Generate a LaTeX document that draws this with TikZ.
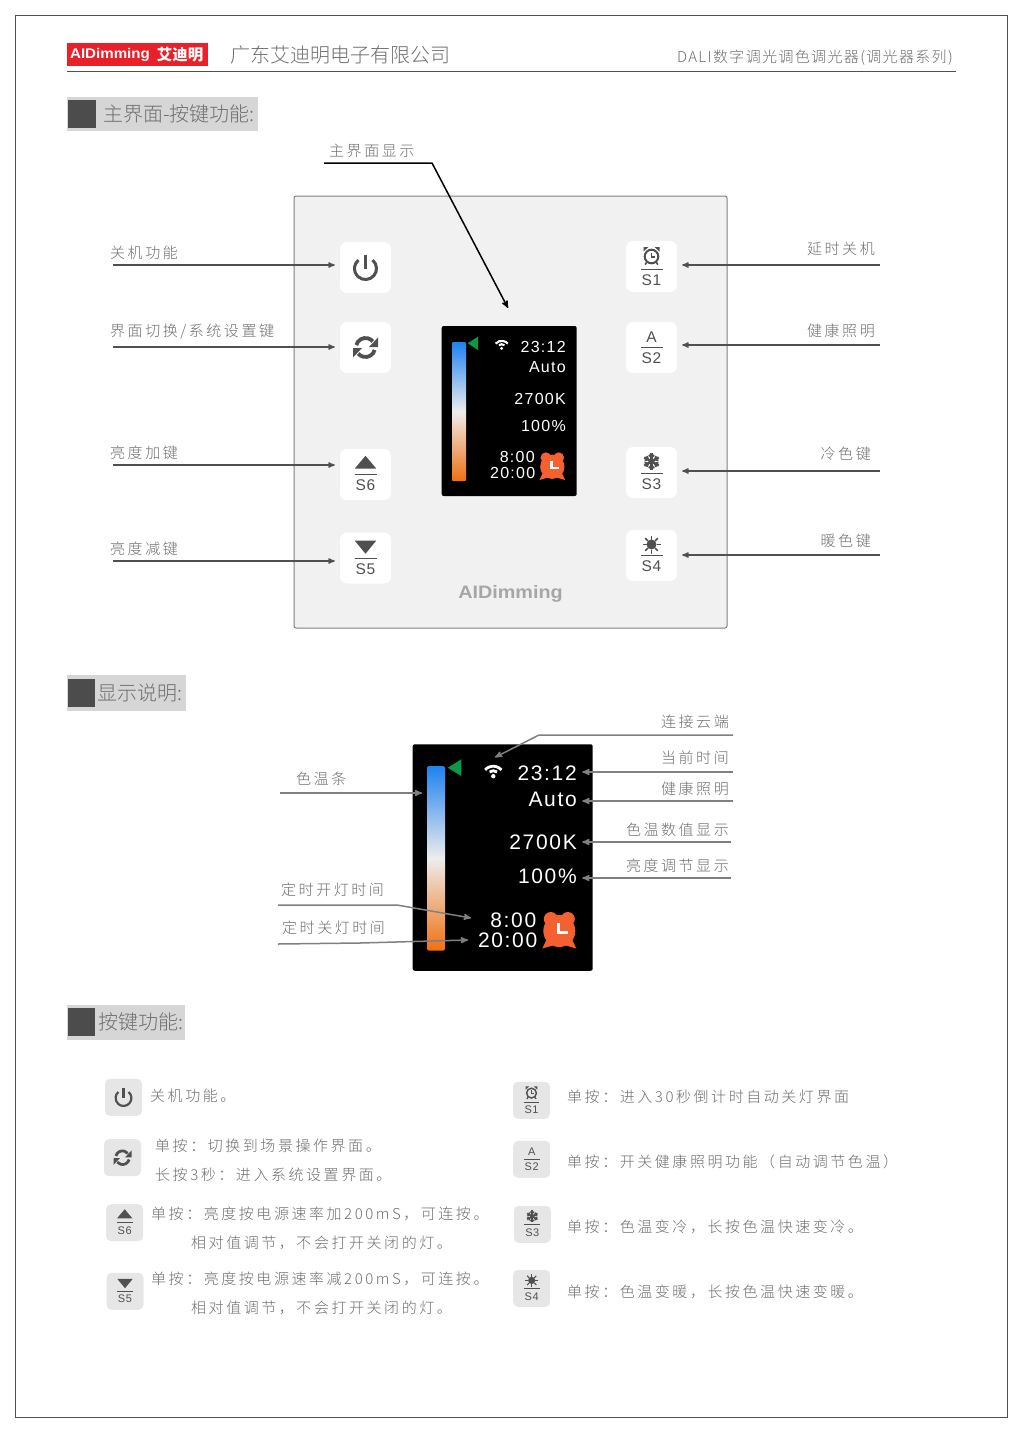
\documentclass[tikz,border=0pt]{standalone}
\usepackage{graphicx}
\usepackage{fontspec}
\usepackage{tikz}
\usetikzlibrary{arrows,positioning}
\newfontfamily\cjkspaced[LetterSpace=17,UprightFont=* Light]{Noto Sans CJK SC}
\newfontfamily\cjktight[LetterSpace=9,UprightFont=* Light]{Noto Sans CJK SC}
\newfontfamily\cjkplain[UprightFont=* Light]{Noto Sans CJK SC}
\newfontfamily\cjklogo{Noto Sans CJK SC}
\newfontfamily\keyfont[LetterSpace=5]{Liberation Sans}
\newfontfamily\logofont{Liberation Sans}
\newfontfamily\dispfont[LetterSpace=8]{Liberation Sans}
\definecolor{txtgray}{HTML}{6E6E6E}
\definecolor{inkgray}{HTML}{505050}
\definecolor{panelgray}{HTML}{F1F1F1}
\definecolor{keygray}{HTML}{E6E6E6}
\definecolor{alarmred}{HTML}{F4602F}
\definecolor{logored}{HTML}{E8202A}
\definecolor{barblue}{HTML}{1E82F0}
\definecolor{barmid}{HTML}{EDEDED}
\definecolor{barwarm}{HTML}{F07010}
\definecolor{flaggreen}{HTML}{0A9A45}
\tikzset{
  caption/.style={font=\cjkspaced\fontsize{15}{15}\selectfont,text=txtgray,inner sep=0pt},
  heading/.style={font=\cjkplain\fontsize{20}{20}\selectfont,text=txtgray,inner sep=0pt,anchor=west},
  callout/.style={draw=inkgray,line width=1.3pt,>=stealth'},
  callgray/.style={draw=gray,line width=1.5pt,>=stealth'},
  bigkey/.style={fill=white,rounded corners=7pt,minimum size=51pt,inner sep=0pt},
  smallkey/.style={fill=keygray,rounded corners=5pt,minimum size=37pt,inner sep=0pt},
  bigtext/.style={font=\keyfont\fontsize{15.5}{15.5}\selectfont,text=inkgray,inner sep=0pt},
  smalltext/.style={font=\keyfont\fontsize{11}{11}\selectfont,text=inkgray,inner sep=0pt},
  screen/.style={fill=black,rounded corners=2pt,inner sep=0pt},
  colourbar/.style={top color=barblue,bottom color=barwarm,middle color=barmid},
  disptext/.style={text=white,anchor=east,inner sep=0pt},
  powericon/.pic={
    \begin{scope}[scale=#1]
      \draw[inkgray,line width=#1*3pt] (0,1) ++(-50:11) arc (-50:230:11);
      \draw[inkgray,line width=#1*3pt] (0,-13) -- (0,1);
    \end{scope}},
  syncicon/.pic={
    \begin{scope}[scale=#1]
      \draw[inkgray,line width=#1*3.8pt] (195:9.5) arc (195:320:9.5);
      \draw[inkgray,line width=#1*3.8pt] (15:9.5) arc (15:140:9.5);
      \fill[inkgray] (12.5,-10) -- (12.5,-0.5) -- (3.5,-0.5) -- cycle;
      \fill[inkgray] (-12.5,10) -- (-12.5,0.5) -- (-3.5,0.5) -- cycle;
    \end{scope}},
  upicon/.pic={
    \begin{scope}[scale=#1]
      \fill[inkgray] (0,-18.7) -- (10.7,-6) -- (-10.7,-6) -- cycle;
    \end{scope}},
  downicon/.pic={
    \begin{scope}[scale=#1]
      \fill[inkgray] (0,-4.3) -- (10.7,-17.3) -- (-10.7,-17.3) -- cycle;
    \end{scope}},
  clockicon/.pic={
    \begin{scope}[scale=#1]
      \draw[inkgray,line width=#1*2pt] (0,-10) circle (6.8);
      \draw[inkgray,line width=#1*1.5pt] (0,-14) -- (0,-9.6) -- (3.5,-9.6);
      \fill[inkgray] (-8,-15) -- (-3.2,-19.3) -- (-8,-19.3) -- cycle;
      \fill[inkgray] (8,-15) -- (3.2,-19.3) -- (8,-19.3) -- cycle;
      \draw[inkgray,line width=#1*1.6pt] (-4.5,-5) -- (-6.3,-1.8) (4.5,-5) -- (6.3,-1.8);
    \end{scope}},
  snowicon/.pic={
    \begin{scope}[scale=#1,shift={(0,-11)}]
      \foreach \ang in {30,90,...,330}{
        \draw[inkgray,line width=#1*2.4pt] (0,0) -- (\ang:8.3);
        \draw[inkgray,line width=#1*1.8pt] (\ang:4) -- ++(\ang+45:3.6) (\ang:4) -- ++(\ang-45:3.6);
      }
      \fill[inkgray] (0,0) circle (3);
    \end{scope}},
  sunicon/.pic={
    \begin{scope}[scale=#1,shift={(0,-11)}]
      \fill[inkgray] (0,0) circle (5);
      \foreach \ang in {0,45,...,315}
        \draw[inkgray,line width=#1*1.5pt] (\ang:5) -- (\ang:9);
    \end{scope}},
  wifiicon/.pic={
    \begin{scope}[scale=#1]
      \fill[white] (0,4.5) circle (2.2);
      \draw[white,line width=#1*2.8pt] (0,5) ++(232:6) arc (232:308:6);
      \draw[white,line width=#1*2.8pt] (0,5.5) ++(222:11) arc (222:318:11);
    \end{scope}},
  alarmicon/.pic={
    \begin{scope}[scale=#1]
      \fill[alarmred] (-8.5,-11) circle (7) (8.5,-11) circle (7) (0,1) circle (16);
      \fill[alarmred] (-13,10) -- (-17,18.5) -- (-5,15) -- cycle (13,10) -- (17,18.5) -- (5,15) -- cycle;
      \draw[white,line width=#1*3pt] (-1,-7) -- (-1,2.3) -- (9,2.3);
    \end{scope}}
}
% key with a rule and a name under the symbol
\newcommand{\keyname}[5]{
  \draw[inkgray,line width=#2*0.9pt] ([shift={(-#2*11,#3)}]#1.center) -- ([shift={(#2*11,#3)}]#1.center);
  \node[#4] (#1name) at ([shift={(0,#3+#2*10.8)}]#1.center) {#5};
}
\begin{document}
\begin{tikzpicture}[x=1pt,y=-1pt]
  \useasboundingbox (0,0) rectangle (1022,1433);
  \draw[inkgray,line width=1pt] (15,15) rectangle (1007,1417);

  % page head
  \node[fill=logored,minimum width=141pt,minimum height=23pt,inner sep=0pt] (logo) at (137.5,54.5) {};
  \node[text=white,font=\logofont\bfseries\fontsize{14}{14}\selectfont,inner sep=0pt] (logoen) at (110,54.5) {\scalebox{1.08}[1]{AIDimming}};
  \node[text=white,font=\cjklogo\bfseries\fontsize{15.5}{15.5}\selectfont,inner sep=0pt] (logocn) at (180,54.5) {艾迪明};
  \node[heading] (company) at (230,55) {广东艾迪明电子有限公司};
  \node[caption,anchor=east,font=\cjktight\fontsize{15}{15}\selectfont] (product) at (953,58) {DALI数字调光调色调光器(调光器系列)};
  \coordinate (headl) at (67,71);
  \coordinate (headr) at (956,71);
  \draw[inkgray,line width=1pt] (headl) -- (headr);

  % section heads
  \fill[black!16] (67,97) rectangle (258,131);
  \fill[black!70] (68,100) rectangle (96,128);
  \node[heading] (secmain) at (103,114) {主界面-按键功能:};
  \fill[black!16] (67,675) rectangle (186,711);
  \fill[black!70] (68,679) rectangle (95,707);
  \node[heading] (secshow) at (97,693) {显示说明:};
  \fill[black!16] (67,1005) rectangle (185,1040);
  \fill[black!70] (68,1008) rectangle (95,1036);
  \node[heading] (seckeys) at (98,1022) {按键功能:};

  % panel
  \draw[fill=panelgray,draw=gray,line width=1pt,rounded corners=2pt] (294,196) rectangle (727,628);
  \node[bigkey] (kpower) at (365.5,267.5) {};
  \node[bigkey] (ksync) at (365.5,347.5) {};
  \node[bigkey] (ks6) at (365.5,474.5) {};
  \node[bigkey] (ks5) at (365.5,558) {};
  \node[bigkey] (ks1) at (651.5,266.5) {};
  \node[bigkey] (ks2) at (651.5,347.5) {};
  \node[bigkey] (ks3) at (651.5,472.5) {};
  \node[bigkey] (ks4) at (651.5,555.5) {};
  \pic at (kpower) {powericon=1};
  \pic at (ksync) {syncicon=1};
  \pic at (ks6) {upicon=1};
  \pic at (ks5) {downicon=1};
  \pic at (ks1) {clockicon=1};
  \pic at (ks3) {snowicon=1};
  \pic at (ks4) {sunicon=1};
  \node[bigtext] (ksA) at ([yshift=10.7pt]ks2.center) {A};
  \keyname{ks6}{1}{0}{bigtext}{S6}
  \keyname{ks5}{1}{0}{bigtext}{S5}
  \keyname{ks1}{1}{2.7}{bigtext}{S1}
  \keyname{ks2}{1}{0}{bigtext}{S2}
  \keyname{ks3}{1}{0.7}{bigtext}{S3}
  \keyname{ks4}{1}{0.3}{bigtext}{S4}
  \node[text=black!35,font=\logofont\bfseries\fontsize{18}{18}\selectfont,inner sep=0pt] (brand) at (510.5,594) {\scalebox{1.1}[1]{AIDimming}};

  % small screen
  \node[screen,minimum width=135pt,minimum height=170pt] (scra) at (509.2,411) {};
  \shade[colourbar,rounded corners=1pt] (452,342) rectangle (466,481);
  \fill[flaggreen] (467.7,343.3) -- (478,336.7) -- (478,350) -- cycle;
  \pic at (501.7,345) {wifiicon=0.75};
  \node[disptext,font=\dispfont\fontsize{16}{16}\selectfont] (timea) at (566,347.3) {23:12};
  \node[disptext,font=\dispfont\fontsize{16}{16}\selectfont] (autoa) at (566,366.7) {Auto};
  \node[disptext,font=\dispfont\fontsize{16}{16}\selectfont] (ccta) at (566,399.3) {2700K};
  \node[disptext,font=\dispfont\fontsize{16}{16}\selectfont] (briga) at (566,425.7) {100\%};
  \node[disptext,font=\dispfont\fontsize{16}{16}\selectfont] (ona) at (535,457.3) {8:00};
  \node[disptext,font=\dispfont\fontsize{16}{16}\selectfont] (offa) at (535.5,473.3) {20:00};
  \pic at (552.3,466) {alarmicon=0.76};

  % panel callouts
  \node[caption,anchor=west] (lpower) at (110,253) {关机功能};
  \node[caption,anchor=west] (lsync) at (110,332) {界面切换/系统设置键};
  \node[caption,anchor=west] (lup) at (110,453) {亮度加键};
  \node[caption,anchor=west] (ldown) at (110,549) {亮度减键};
  \node[caption,anchor=west] (lshow) at (329,151) {主界面显示};
  \node[caption,anchor=east] (ltimer) at (875,249) {延时关机};
  \node[caption,anchor=east] (lhealth) at (875,331) {健康照明};
  \node[caption,anchor=east] (lcold) at (871,454) {冷色键};
  \node[caption,anchor=east] (lwarm) at (871,541) {暖色键};
  \coordinate (p1) at (113,265);
  \coordinate (p2) at (113,347);
  \coordinate (p3) at (113,465);
  \coordinate (p4) at (113,561);
  \coordinate (p5) at (880,265);
  \coordinate (p6) at (880,345);
  \coordinate (p7) at (880,471);
  \coordinate (p8) at (880,555);
  \coordinate (p9) at (324,163);
  \coordinate (p10) at (432,163);
  \coordinate (p11) at (508,308);
  \path[every edge/.style={->,callout,shorten >=5pt}] (p1) edge (p1 -| kpower.west)
    (p2) edge (p2 -| ksync.west)
    (p3) edge (p3 -| ks6.west)
    (p4) edge (p4 -| ks5.west)
    (p5) edge (p5 -| ks1.east)
    (p6) edge (p6 -| ks2.east)
    (p7) edge (p7 -| ks3.east)
    (p8) edge (p8 -| ks4.east);
  \draw[->,black,line width=1.5pt,>=stealth'] (p9) -- (p10) -- (p11);

  % big screen
  \node[screen,minimum width=180pt,minimum height=226.5pt] (scrb) at (502.7,857.5) {};
  \shade[colourbar,rounded corners=1.5pt] (427,766) rectangle (445,950.7);
  \fill[flaggreen] (447.7,767.7) -- (461.3,759.3) -- (461.3,776) -- cycle;
  \pic at (493.3,771.7) {wifiicon=1};
  \node[disptext,font=\dispfont\fontsize{21}{21}\selectfont] (timeb) at (577,773.3) {23:12};
  \node[disptext,font=\dispfont\fontsize{21}{21}\selectfont] (autob) at (577,799) {Auto};
  \node[disptext,font=\dispfont\fontsize{21}{21}\selectfont] (cctb) at (577,842) {2700K};
  \node[disptext,font=\dispfont\fontsize{21}{21}\selectfont] (brigb) at (577,876.7) {100\%};
  \node[disptext,font=\dispfont\fontsize{21}{21}\selectfont] (onb) at (536.5,920) {8:00};
  \node[disptext,font=\dispfont\fontsize{21}{21}\selectfont] (offb) at (537.5,940) {20:00};
  \pic at (559.3,930) {alarmicon=1};

  % screen callouts
  \node[caption,anchor=east] (lcloud) at (729,722) {连接云端};
  \node[caption,anchor=east] (lclock) at (729,758) {当前时间};
  \node[caption,anchor=east] (lauto) at (729,789) {健康照明};
  \node[caption,anchor=east] (lcct) at (729,830) {色温数值显示};
  \node[caption,anchor=east] (lbrig) at (729,866) {亮度调节显示};
  \node[caption,anchor=west] (lbar) at (296,779) {色温条};
  \node[caption,anchor=west] (lon) at (281,890) {定时开灯时间};
  \node[caption,anchor=west] (loff) at (282,928) {定时关灯时间};
  \coordinate (q1) at (733,735);
  \coordinate (q2) at (539,735);
  \coordinate (q3) at (495,757.3);
  \coordinate (q4) at (733,772);
  \coordinate (q5) at (733,801);
  \coordinate (q6) at (731,842);
  \coordinate (q7) at (731,878);
  \coordinate (q8) at (280,793);
  \coordinate (q9) at (422,793);
  \coordinate (q10) at (278,905);
  \coordinate (q11) at (397,905);
  \coordinate (q12) at (471,918);
  \coordinate (q13) at (278,944);
  \coordinate (q14) at (360,943);
  \coordinate (q15) at (468,940);
  \draw[->,callgray] (q1) -- (q2) -- (q3);
  \path[every edge/.style={->,callgray,shorten >=5.3pt}] (q4) edge (q4 -| timeb.east)
    (q5) edge (q5 -| autob.east)
    (q6) edge (q6 -| cctb.east)
    (q7) edge (q7 -| brigb.east);
  \draw[->,callgray] (q8) -- (q9);
  \draw[->,callgray] (q10) -- (q11) -- (q12);
  \draw[->,callgray] (q13) -- (q14) -- (q15);

  % key list
  \node[smallkey] (mpower) at (123.5,1097.3) {};
  \node[smallkey] (msync) at (122.5,1157.7) {};
  \node[smallkey] (ms6) at (124.7,1222.7) {};
  \node[smallkey] (ms5) at (125,1291.3) {};
  \node[smallkey] (ms1) at (531.5,1100.3) {};
  \node[smallkey] (ms2) at (531.7,1159.3) {};
  \node[smallkey] (ms3) at (532.3,1224.3) {};
  \node[smallkey] (ms4) at (531.7,1288.3) {};
  \pic at (mpower) {powericon=0.72};
  \pic at (msync) {syncicon=0.72};
  \pic at (ms6) {upicon=0.72};
  \pic at (ms5) {downicon=0.72};
  \pic at (ms1) {clockicon=0.72};
  \pic at (ms3) {snowicon=0.72};
  \pic at (ms4) {sunicon=0.72};
  \node[smalltext] (msA) at ([yshift=8pt]ms2.center) {A};
  \keyname{ms6}{0.72}{0}{smalltext}{S6}
  \keyname{ms5}{0.72}{0}{smalltext}{S5}
  \keyname{ms1}{0.72}{2}{smalltext}{S1}
  \keyname{ms2}{0.72}{0}{smalltext}{S2}
  \keyname{ms3}{0.72}{0.5}{smalltext}{S3}
  \keyname{ms4}{0.72}{0.2}{smalltext}{S4}

  \node[caption,anchor=west] (tpower) at (150,1096) {关机功能。};
  \node[caption,anchor=west] (tsynca) at (155,1146) {单按：切换到场景操作界面。};
  \node[caption,anchor=west] (tsyncb) at (155,1175) {长按3秒：进入系统设置界面。};
  \node[caption,anchor=west] (tupa) at (151,1214) {单按：亮度按电源速率加200mS，可连按。};
  \node[caption,anchor=west] (tupb) at (191,1243) {相对值调节，不会打开关闭的灯。};
  \node[caption,anchor=west] (tdowna) at (151,1279) {单按：亮度按电源速率减200mS，可连按。};
  \node[caption,anchor=west] (tdownb) at (191,1308) {相对值调节，不会打开关闭的灯。};
  \node[caption,anchor=west] (ts1) at (567,1097) {单按：进入30秒倒计时自动关灯界面};
  \node[caption,anchor=west] (ts2) at (567,1162) {单按：开关健康照明功能（自动调节色温）};
  \node[caption,anchor=west] (ts3) at (567,1227) {单按：色温变冷，长按色温快速变冷。};
  \node[caption,anchor=west] (ts4) at (567,1292) {单按：色温变暖，长按色温快速变暖。};
\end{tikzpicture}
\end{document}
